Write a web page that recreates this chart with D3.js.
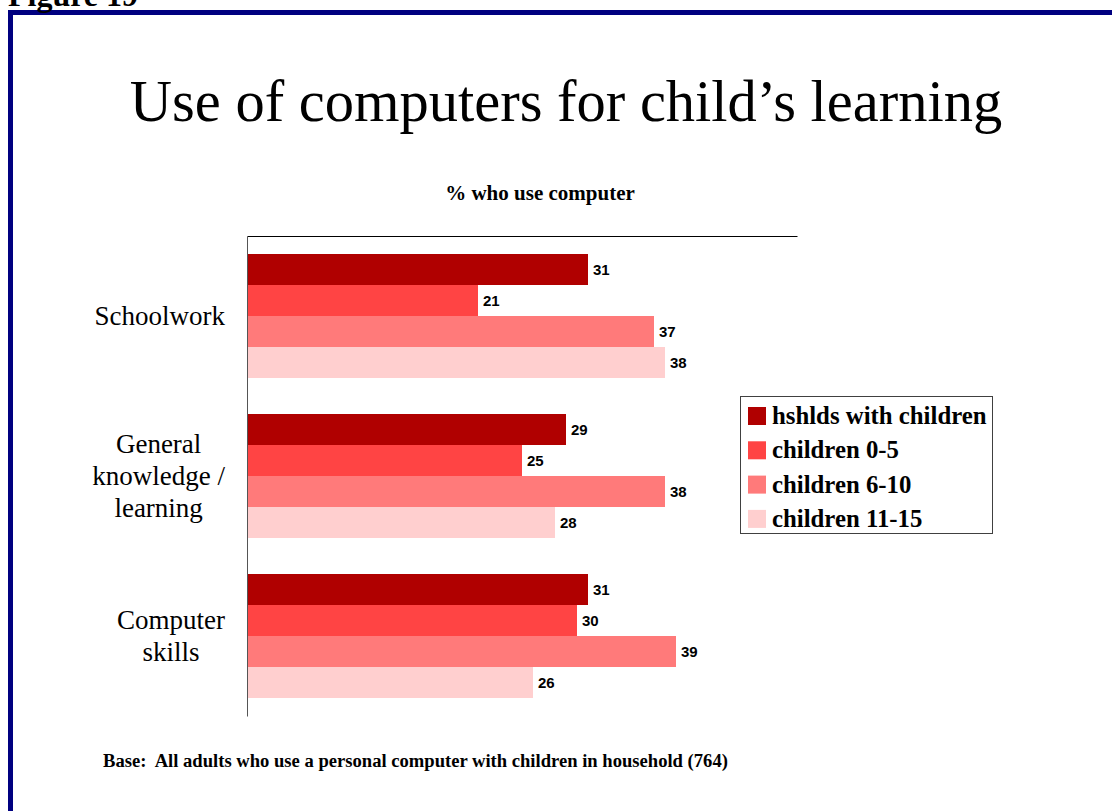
<!DOCTYPE html>
<html>
<head>
<meta charset="utf-8">
<script src="https://cdn.jsdelivr.net/npm/d3@7"></script>
<style>
  html, body { margin: 0; padding: 0; background: #ffffff; }
  svg { display: block; }
</style>
</head>
<body>
<svg id="chart" width="1112" height="811"></svg>
<script>
// Categories (one label line per entry) and the four series of percentages
const categories = ["Schoolwork", "General knowledge / learning", "Computer skills"];
const categoryLines = [["Schoolwork"], ["General", "knowledge /", "learning"], ["Computer", "skills"]];
const seriesNames = ["hshlds with children", "children 0-5", "children 6-10", "children 11-15"];
const hshldsWithChildren = [31, 29, 31];
const children0to5 = [21, 25, 30];
const children6to10 = [37, 38, 39];
const children11to15 = [38, 28, 26];
const seriesColors = ["#b00000", "#ff4444", "#ff7a7a", "#ffcfcf"];

const seriesValues = [hshldsWithChildren, children0to5, children6to10, children11to15];
const serif = "'Liberation Serif', 'Times New Roman', serif";
const sans = "'Liberation Sans', Arial, sans-serif";

const svg = d3.select("#chart");

// Slide frame
svg.append("rect")
  .attr("x", 10.5).attr("y", 12.5)
  .attr("width", 1300).attr("height", 1000)
  .attr("fill", "none").attr("stroke", "#000080").attr("stroke-width", 5);

svg.append("text")
  .attr("x", 8).attr("y", 6)
  .attr("font-family", serif).attr("font-weight", "bold").attr("font-size", 32)
  .text("Figure 19");

// Titles
svg.append("text")
  .attr("x", 566).attr("y", 121)
  .attr("text-anchor", "middle")
  .attr("font-family", serif).attr("font-size", 58.5)
  .text("Use of computers for child\u2019s learning");

svg.append("text")
  .attr("x", 540).attr("y", 200)
  .attr("text-anchor", "middle")
  .attr("font-family", serif).attr("font-weight", "bold").attr("font-size", 21)
  .text("% who use computer");

// Scales
const x = d3.scaleLinear().domain([0, 50]).range([247, 797]);
const y = d3.scaleBand().domain(categories).range([236, 716])
  .paddingInner(0.225).paddingOuter(0.1125);
const ySeries = d3.scaleBand().domain(seriesNames).range([0, y.bandwidth()]);

// Bars
const groups = svg.append("g").selectAll("g")
  .data(categories)
  .join("g")
  .attr("transform", d => `translate(0,${y(d)})`);

groups.selectAll("rect")
  .data((c, ci) => seriesNames.map((s, si) => ({ s, si, v: seriesValues[si][ci] })))
  .join("rect")
  .attr("x", x(0))
  .attr("y", d => ySeries(d.s))
  .attr("width", d => x(d.v) - x(0))
  .attr("height", ySeries.bandwidth())
  .attr("fill", d => seriesColors[d.si]);

groups.selectAll("text.val")
  .data((c, ci) => seriesNames.map((s, si) => ({ s, si, v: seriesValues[si][ci] })))
  .join("text")
  .attr("class", "val")
  .attr("x", d => x(d.v) + 5)
  .attr("y", d => ySeries(d.s) + ySeries.bandwidth() / 2)
  .attr("dy", "0.36em")
  .attr("font-family", sans).attr("font-weight", "bold").attr("font-size", 15)
  .text(d => d.v);

// Axes: plain lines on the left and top of the plot
svg.append("g")
  .attr("transform", `translate(0,236)`)
  .call(d3.axisTop(x).tickValues([]).tickSizeOuter(0))
  .select(".domain").attr("stroke", "#000");

svg.append("g")
  .attr("transform", `translate(${x(0)},0)`)
  .call(d3.axisLeft(y).tickValues([]).tickSizeOuter(0))
  .select(".domain").attr("stroke", "#555");

// Category labels: each block right-aligned at the axis, lines centred within it
const labelRight = 225;
const lineHeight = 32;
categories.forEach((c, ci) => {
  const lines = categoryLines[ci];
  const g = svg.append("g");
  const cy = y(c) + y.bandwidth() / 2;
  const texts = lines.map((ln, li) => g.append("text")
    .attr("y", cy - (lines.length - 1) * lineHeight / 2 + li * lineHeight + 9)
    .attr("text-anchor", "middle")
    .attr("font-family", serif).attr("font-size", 27)
    .text(ln));
  const maxW = d3.max(texts, t => t.node().getComputedTextLength());
  texts.forEach(t => t.attr("x", labelRight - maxW / 2));
});

// Legend
const legend = svg.append("g");
legend.append("rect")
  .attr("x", 740.5).attr("y", 396.5)
  .attr("width", 252).attr("height", 137)
  .attr("fill", "#fff").attr("stroke", "#404040").attr("stroke-width", 1);

const legendRows = legend.selectAll("g.row")
  .data(seriesNames)
  .join("g")
  .attr("class", "row")
  .attr("transform", (d, i) => `translate(0,${424 + i * 34.3})`);

legendRows.append("rect")
  .attr("x", 748).attr("y", -17)
  .attr("width", 18).attr("height", 18)
  .attr("fill", (d, i) => seriesColors[i]);

legendRows.append("text")
  .attr("x", 772).attr("y", 0)
  .attr("font-family", serif).attr("font-weight", "bold").attr("font-size", 24.8)
  .text(d => d);

// Footnote
svg.append("text")
  .attr("x", 103).attr("y", 767)
  .attr("font-family", serif).attr("font-weight", "bold").attr("font-size", 18.6)
  .attr("xml:space", "preserve")
  .text("Base:  All adults who use a personal computer with children in household (764)");
</script>
</body>
</html>
